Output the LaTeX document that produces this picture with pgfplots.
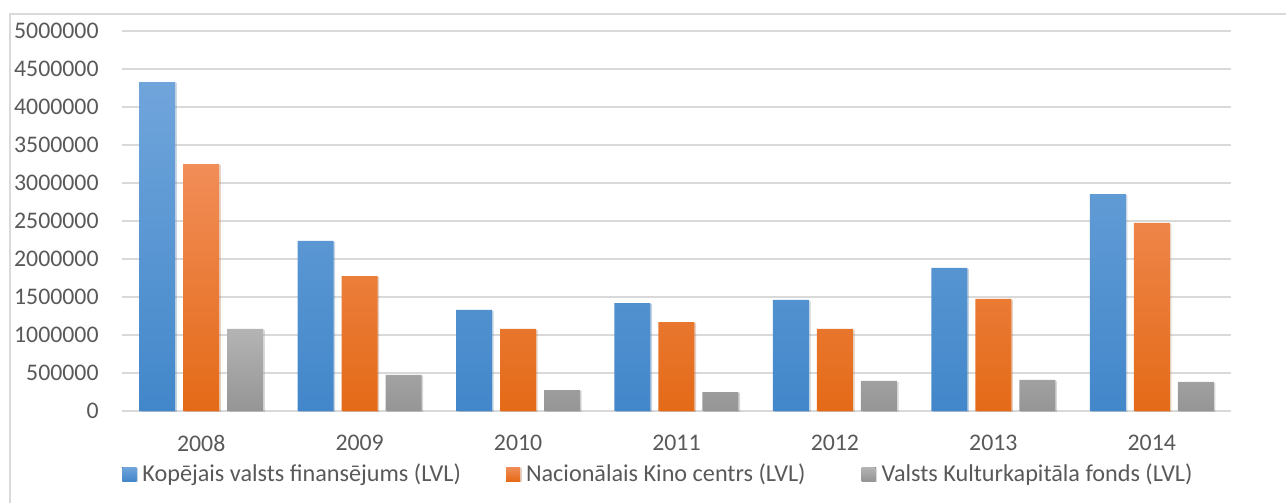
\documentclass[border=0pt]{standalone}
\usepackage{pgfplots}
\pgfplotsset{compat=1.18}
\usepackage{fontspec}
\setmainfont{Carlito}
\usetikzlibrary{shadows}
\definecolor{txt}{HTML}{595959}
\definecolor{gridc}{HTML}{D9D9D9}
\definecolor{blueT}{HTML}{70A5DB}
\definecolor{blueB}{HTML}{4287CA}
\definecolor{orT}{HTML}{F18D58}
\definecolor{orB}{HTML}{E46A17}
\definecolor{grT}{HTML}{B4B4B4}
\definecolor{grB}{HTML}{959595}
\begin{document}
\begin{tikzpicture}
\path[use as bounding box] (-61pt,-46pt) rectangle (582pt,205.5pt);
\draw[gridc, line width=0.75pt] (-56pt,-50pt) -- (-56pt,198.5pt) -- (590pt,198.5pt);
\begin{axis}[
  at={(0,0)}, anchor=south west,
  scale only axis, width=554.5pt, height=190pt,
  ybar=4pt, bar width=18pt,
  xmin=-0.5, xmax=6.5,
  ymin=0, ymax=5000000,
  xtick={0,...,6},
  xticklabels={2008,2009,2010,2011,2012,2013,2014},
  ytick={0,500000,...,5000000},
  axis line style={draw=none},
  tick style={draw=none},
  ymajorgrids, grid style={gridc, line width=0.75pt},
  scaled y ticks=false,
  /pgf/number format/assume math mode=true,
  yticklabel={\pgfmathprintnumber[fixed,precision=0,1000 sep={}]{\tick}},
  tick label style={font=\fontsize{11.9}{13}\selectfont, text=txt},
  yticklabel style={anchor=east, inner sep=0pt, xshift=-11.5pt},
  xticklabel style={anchor=north, inner sep=0pt, yshift=-7.5pt},
  legend columns=3,
  legend style={at={(0,0)}, anchor=west, xshift=0pt, yshift=-31.5pt, draw=none, fill=none,
    inner sep=0pt, font=\fontsize{12.1}{13}\selectfont, text=txt,
    /tikz/every even column/.append style={column sep=19.5pt},
    nodes={inner xsep=3pt, inner ysep=0pt}},
  legend image code/.code={\fill[#1] (0pt,-3.5pt) rectangle (7pt,3.5pt);},
  every axis plot/.append style={draw=none},
]
\addplot[top color=blueT, bottom color=blueB, draw=none,
  drop shadow={opacity=0.2, shadow xshift=0.8pt, shadow yshift=-0.4pt}]
  coordinates {(0,4329000) (1,2237000) (2,1329000) (3,1421000) (4,1461000) (5,1882000) (6,2855000)};
\addplot[top color=orT, bottom color=orB, draw=none,
  drop shadow={opacity=0.2, shadow xshift=0.8pt, shadow yshift=-0.4pt}]
  coordinates {(0,3250000) (1,1776000) (2,1079000) (3,1171000) (4,1079000) (5,1474000) (6,2474000)};
\addplot[top color=grT, bottom color=grB, draw=none,
  drop shadow={opacity=0.2, shadow xshift=0.8pt, shadow yshift=-0.4pt}]
  coordinates {(0,1079000) (1,474000) (2,276000) (3,250000) (4,395000) (5,408000) (6,382000)};
\legend{Kopējais valsts finansējums (LVL), Nacionālais Kino centrs (LVL)\kern5.5pt, Valsts Kulturkapitāla fonds (LVL)}
\end{axis}
\end{tikzpicture}
\end{document}
